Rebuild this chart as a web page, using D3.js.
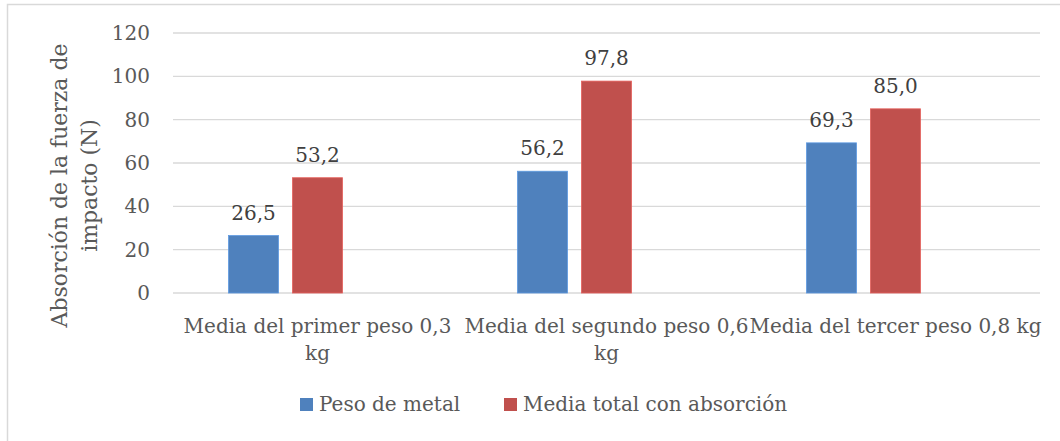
<!DOCTYPE html>
<html><head><meta charset="utf-8">
<script src="https://cdn.jsdelivr.net/npm/d3@7"></script>
<style>body{margin:0;background:#fff;} svg{display:block;}</style>
</head><body>
<svg id="c" width="1060" height="441"></svg>
<script>
const categories = ["Media del primer peso 0,3 kg", "Media del segundo peso 0,6 kg", "Media del tercer peso 0,8 kg"];
const seriesNames = ["Peso de metal", "Media total con absorción"];
const pesoMetal = [26.5, 56.2, 69.3];
const mediaTotal = [53.2, 97.8, 85.0];
const yTicks = [0, 20, 40, 60, 80, 100, 120];
const colors = ["#4F81BD", "#C0504D"];

(function () {
const FONT = "'DejaVu Serif', serif";
const TXT = "#595959";
const FS = 20;

const svg = d3.select("#c");
svg.append("rect").attr("x", 7.5).attr("y", 4.5).attr("width", 1200).attr("height", 600)
  .attr("fill", "#fff").attr("stroke", "#D9D9D9").attr("stroke-width", 1.5);

const pL = 173, pR = 1040, pT = 33, pB = 293;
const x = d3.scaleBand().domain(categories).range([pL, pR]).paddingInner(0).paddingOuter(0);
const y = d3.scaleLinear().domain([0, 120]).range([pB, pT]);
const groupW = 178, barW = 50, step = 64;
const groupOffset = (x.bandwidth() - groupW) / 2;

svg.append("g").selectAll("line").data(yTicks).join("line")
  .attr("x1", pL).attr("x2", pR)
  .attr("y1", d => y(d)).attr("y2", d => y(d))
  .attr("stroke", "#D9D9D9").attr("stroke-width", 1.3);

const yAxis = d3.axisLeft(y).tickValues(yTicks).tickSize(0).tickPadding(23);
const ga = svg.append("g").attr("transform", `translate(${pL},0)`).call(yAxis);
ga.select(".domain").remove();
ga.selectAll("text").attr("font-family", FONT).attr("font-size", FS).attr("fill", TXT);

const series = [pesoMetal, mediaTotal];
series.forEach((vals, si) => {
  const g = svg.append("g");
  g.selectAll("rect").data(vals).join("rect")
    .attr("x", (d, i) => x(categories[i]) + groupOffset + si * step)
    .attr("y", d => y(d)).attr("width", barW).attr("height", d => y(0) - y(d))
    .attr("fill", colors[si]).attr("stroke", d3.color(colors[si]).brighter(0.5)).attr("stroke-width", 0.8);
  g.selectAll("text").data(vals).join("text")
    .attr("x", (d, i) => x(categories[i]) + groupOffset + si * step + barW / 2)
    .attr("y", d => y(d) - 16)
    .attr("text-anchor", "middle").attr("font-family", FONT).attr("font-size", FS).attr("fill", "#404040")
    .text(d => d.toFixed(1).replace(".", ","));
});

const catLines = [["Media del primer peso 0,3", "kg"], ["Media del segundo peso 0,6", "kg"], ["Media del tercer peso 0,8 kg"]];
categories.forEach((c, i) => {
  const t = svg.append("text").attr("text-anchor", "middle").attr("font-family", FONT)
    .attr("font-size", FS).attr("fill", TXT);
  catLines[i].forEach((ln, k) => {
    t.append("tspan").attr("x", x(c) + x.bandwidth() / 2).attr("y", 333 + k * 27).text(ln);
  });
});

const yt = svg.append("text").attr("transform", "translate(0,185.5) rotate(-90)")
  .attr("text-anchor", "middle").attr("font-family", FONT).attr("font-size", FS).attr("fill", TXT);
yt.append("tspan").attr("x", 0).attr("y", 67).text("Absorción de la fuerza de");
yt.append("tspan").attr("x", 0).attr("y", 97).text("impacto (N)");
const tw = yt.select("tspan").node().getComputedTextLength();
yt.attr("font-size", FS * 284 / tw);

const legX = [300, 504];
seriesNames.forEach((n, i) => {
  svg.append("rect").attr("x", legX[i]).attr("y", 398).attr("width", 13).attr("height", 13).attr("fill", colors[i]);
  svg.append("text").attr("x", legX[i] + 19).attr("y", 411).attr("font-family", FONT)
    .attr("font-size", FS).attr("fill", TXT).text(n);
});
})();
</script>
</body></html>
